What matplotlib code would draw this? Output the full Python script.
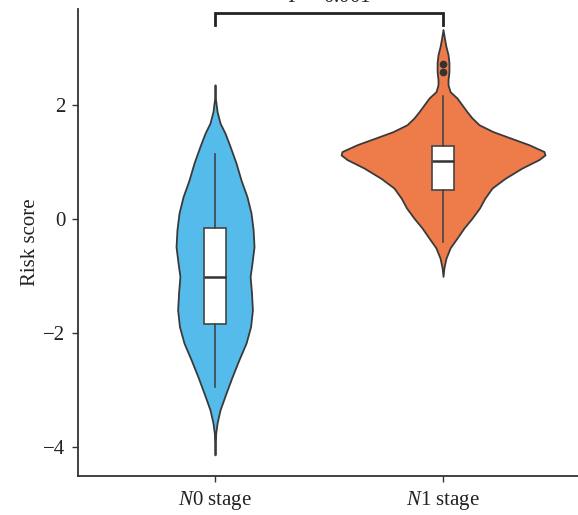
"""
Risk score distribution by N stage: violin + box plot with significance bracket.
"""

import matplotlib
matplotlib.use("Agg")
import matplotlib.pyplot as plt

plt.rcParams['font.family'] = ['Liberation Serif', 'DejaVu Serif']
plt.rcParams['mathtext.fontset'] = 'custom'
plt.rcParams['mathtext.rm'] = 'Liberation Serif'
plt.rcParams['mathtext.it'] = 'Liberation Serif:italic'

# Groups and colours
groups = [r'$\mathit{N}$0 stage', r'$\mathit{N}$1 stage']
colors = ['#55BBEA', '#EE7B4A']

# Violin outlines: risk score levels and half-widths (in category units)
n0_levels = [2.35, 2.10, 1.88, 1.68, 1.50, 1.27, 0.98, 0.68, 0.39, 0.10, -0.19,
             -0.49, -0.78, -1.01, -1.30, -1.60, -1.89, -2.18, -2.47, -2.77, -3.06,
             -3.35, -3.58, -3.76, -4.14]
n0_halfwidth = [0.0, 0.002, 0.009, 0.022, 0.044, 0.066, 0.092, 0.114, 0.140, 0.158, 0.167,
                0.171, 0.162, 0.154, 0.160, 0.164, 0.156, 0.136, 0.105, 0.075, 0.048,
                0.022, 0.009, 0.003, 0.0]

n1_levels = [3.32, 3.15, 3.02, 2.88, 2.74, 2.58, 2.44, 2.35, 2.23, 2.12, 2.00,
             1.88, 1.77, 1.65, 1.53, 1.42, 1.30, 1.18, 1.12, 1.04, 0.89,
             0.71, 0.54, 0.36, 0.19, 0.01, -0.16, -0.34, -0.51, -0.69, -0.86, -1.01]
n1_halfwidth = [0.0, 0.007, 0.013, 0.022, 0.026, 0.026, 0.022, 0.022, 0.031, 0.061, 0.083,
                0.105, 0.127, 0.158, 0.219, 0.294, 0.377, 0.443, 0.447, 0.421, 0.346,
                0.272, 0.215, 0.183, 0.160, 0.127, 0.092, 0.061, 0.031, 0.013, 0.004, 0.0]

# Box plot summaries
medians = [-1.02, 1.02]
q1s = [-1.84, 0.51]
q3s = [-0.16, 1.27]
whisker_low = [-2.95, -0.40]
whisker_high = [1.14, 2.16]
outliers = [[], [2.58, 2.72]]

p_label = r'$\mathit{P}$ < 0.001'

fig = plt.figure(figsize=(5.78, 5.15), dpi=100)
ax = fig.add_axes([78 / 578, 39 / 515, 500 / 578, 467 / 515])

edge = '#3a3a3a'
profiles = [(n0_levels, n0_halfwidth), (n1_levels, n1_halfwidth)]
for pos, (levels, hw) in enumerate(profiles):
    left = [pos - w for w in hw]
    right = [pos + w for w in hw]
    ax.fill_betweenx(levels, left, right, facecolor=colors[pos],
                     edgecolor=edge, linewidth=1.3, zorder=2)

stats = []
for i in range(len(groups)):
    stats.append({'med': medians[i], 'q1': q1s[i], 'q3': q3s[i],
                  'whislo': whisker_low[i], 'whishi': whisker_high[i],
                  'fliers': outliers[i]})

ax.bxp(stats, positions=[0, 1], widths=0.1, patch_artist=True, showcaps=False,
       boxprops=dict(facecolor='white', edgecolor='#444444', linewidth=1.2),
       medianprops=dict(color='#333333', linewidth=1.8),
       whiskerprops=dict(color='#444444', linewidth=1.2),
       flierprops=dict(marker='o', markerfacecolor='#333333',
                       markeredgecolor='#333333', markersize=4.5),
       zorder=3)

# Significance bracket
ax.plot([0, 0, 1, 1], [3.40, 3.61, 3.61, 3.40], color='#222222',
        linewidth=2, clip_on=False, solid_joinstyle='miter')
ax.text(0.5, 3.80, p_label, ha='center', va='baseline', fontsize=15,
        color='#222222', clip_on=False)

ax.set_xlim(-0.601, 1.592)
ax.set_ylim(-4.51, 3.68)
ax.set_xticks([0, 1])
ax.set_xticklabels(groups, fontsize=15, color='#222222')
ax.set_yticks([-4, -2, 0, 2])
ax.set_yticklabels(['\u22124', '\u22122', '0', '2'], fontsize=15, color='#222222')
ax.set_ylabel('Risk score', fontsize=15, color='#222222', labelpad=2)

for side in ['top', 'right']:
    ax.spines[side].set_visible(False)
for side in ['left', 'bottom']:
    ax.spines[side].set_color('#333333')
    ax.spines[side].set_linewidth(1.3)
ax.tick_params(axis='both', length=4, width=1, color='#333333', pad=5)

fig.savefig('out.png', dpi=100)
